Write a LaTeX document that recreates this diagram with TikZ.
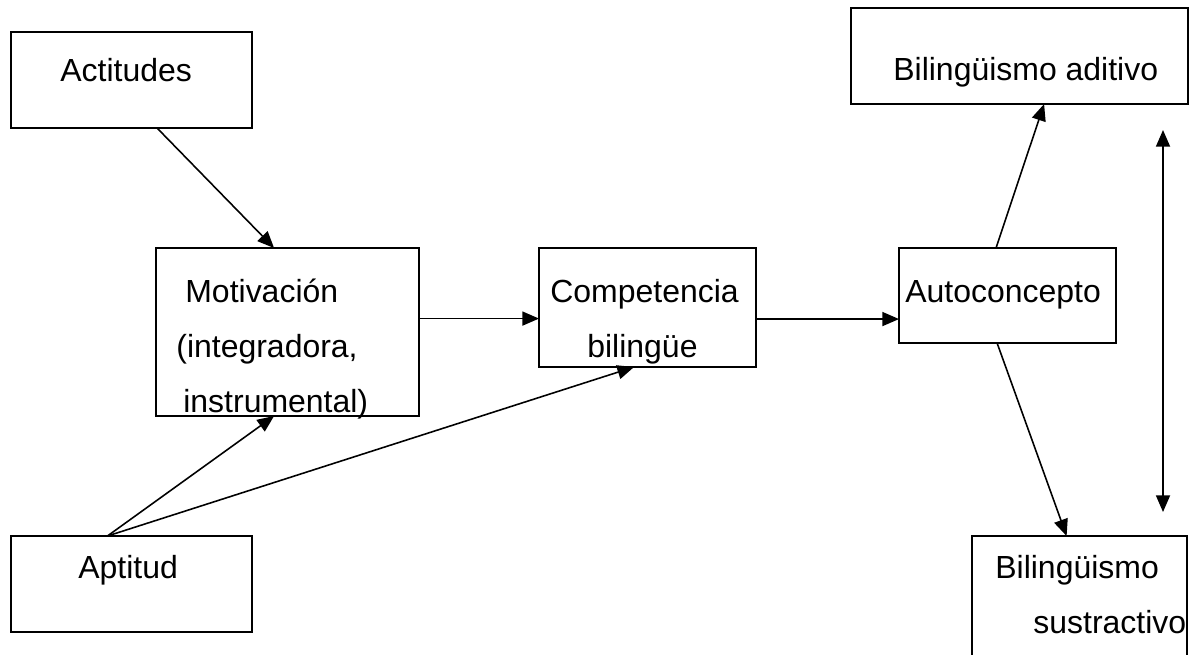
\documentclass[tikz,border=0pt]{standalone}
\usepackage{fontspec}
\setmainfont{Liberation Sans}
\usetikzlibrary{arrows.meta,calc}

\tikzset{
  caja/.style={draw,line width=0.9pt,inner sep=0pt,outer sep=0pt},
  texto/.style={anchor=base west,inner sep=0pt,font=\fontsize{18.2pt}{22pt}\selectfont},
  flecha/.style={line width=0.9pt,-{Triangle[length=9.5pt,width=8pt]}},
  doble/.style={line width=0.9pt,{Triangle[length=9.5pt,width=8pt]}-{Triangle[length=9.5pt,width=8pt]}},
}

\begin{document}
\begin{tikzpicture}[x=0.02cm,y=-0.02cm]
\useasboundingbox (0,0) rectangle (1190,654);

% cajas
\node[caja,minimum width=4.82cm,minimum height=1.92cm] (act) at (131.5,80) {};
\node[caja,minimum width=5.26cm,minimum height=3.36cm] (mot) at (287.5,332) {};
\node[caja,minimum width=4.34cm,minimum height=2.38cm] (comp) at (647.5,307.5) {};
\node[caja,minimum width=4.34cm,minimum height=1.90cm] (auto) at (1007.5,295.5) {};
\node[caja,minimum width=6.74cm,minimum height=1.92cm] (adit) at (1019.5,56) {};
\node[caja,minimum width=4.30cm,minimum height=2.56cm] (sust) at (1079.5,600) {};
\node[caja,minimum width=4.82cm,minimum height=1.92cm] (apt) at (131.5,584) {};

% textos
\node[texto] (tact) at (60,81) {Actitudes};
\node[texto] (tmot1) at (185,302) {Motivación};
\node[texto] (tmot2) at (176,357) {(integradora,};
\node[texto] (tmot3) at (183,412) {instrumental)};
\node[texto] (tcomp1) at (550,302) {Competencia};
\node[texto] (tcomp2) at (587,357) {bilingüe};
\node[texto] (tauto) at (905,302) {Autoconcepto};
\node[texto] (tadit) at (893,80) {Bilingüismo aditivo};
\node[texto] (tsust1) at (995,578) {Bilingüismo};
\node[texto] (tsust2) at (1033,633) {sustractivo};
\node[texto] (tapt) at (78,578) {Aptitud};

% flechas
\coordinate (m1) at ($(mot.north east)!.42!(mot.south east)$);
\coordinate (c1) at ($(comp.north east)!.597!(comp.south east)$);
\coordinate (a1) at ($(apt.north west)!.4!(apt.north east)$);
\coordinate (arriba) at (1163,130);
\coordinate (abajo) at (1163,512);

\draw[flecha] ($(act.south west)!.606!(act.south east)$) -- ($(mot.north west)!.449!(mot.north east)$);
\draw[flecha] (m1) -- (m1 -| comp.west);
\draw[flecha] (c1) -- (c1 -| auto.west);
\draw[flecha] (a1) -- ($(mot.south west)!.449!(mot.south east)$);
\draw[flecha] (a1) -- ($(comp.south west)!.438!(comp.south east)$);
\draw[flecha] ($(auto.north west)!.447!(auto.north east)$) -- ($(adit.south west)!.573!(adit.south east)$);
\draw[flecha] ($(auto.south west)!.452!(auto.south east)$) -- ($(sust.north west)!.44!(sust.north east)$);
\draw[doble] (arriba) -- (abajo);
\end{tikzpicture}
\end{document}
